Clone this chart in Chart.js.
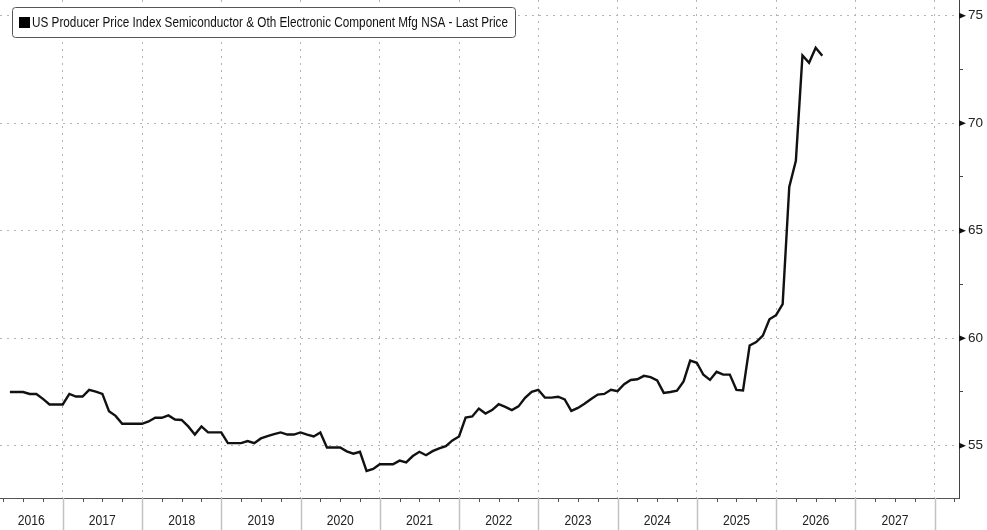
<!DOCTYPE html>
<html>
<head>
<meta charset="utf-8">
<script src="https://cdn.jsdelivr.net/npm/chart.js@4.4.1/dist/chart.umd.min.js"></script>
<style>
  html, body { margin: 0; padding: 0; background: #fff; }
  #wrap { width: 987px; height: 530px; }
</style>
</head>
<body>
<div id="wrap"><canvas id="grafico" width="987" height="530"></canvas></div>
<script>
// ==================== DADOS ====================
const seriesName = "US Producer Price Index Semiconductor & Oth Electronic Component Mfg NSA - Last Price";
const baseYear = 2016;
const firstMonth = "2016-05";

const ppiValues = [
  57.5, 57.5, 57.5, 57.41, 57.41, 57.18, 56.92, 56.92, 56.92, 57.41, 57.29, 57.29,
  57.6, 57.52, 57.41, 56.61, 56.39, 56.02, 56.02, 56.02, 56.02, 56.13, 56.3, 56.3,
  56.41, 56.22, 56.2, 55.9, 55.52, 55.9, 55.62, 55.62, 55.62, 55.12, 55.12, 55.12,
  55.22, 55.12, 55.34, 55.45, 55.54, 55.62, 55.52, 55.52, 55.62, 55.52, 55.43, 55.62,
  54.92, 54.92, 54.92, 54.74, 54.63, 54.72, 53.83, 53.92, 54.14, 54.14, 54.14, 54.31,
  54.23, 54.52, 54.72, 54.56, 54.75, 54.88, 54.98, 55.25, 55.43, 56.31, 56.36, 56.73,
  56.5, 56.66, 56.93, 56.81, 56.66, 56.83, 57.23, 57.51, 57.6, 57.24, 57.24, 57.28,
  57.15, 56.62, 56.76, 56.95, 57.17, 57.38, 57.41, 57.6, 57.54, 57.86, 58.06, 58.09,
  58.25, 58.19, 58.04, 57.46, 57.5, 57.56, 57.99, 58.96, 58.86, 58.3, 58.06, 58.44,
  58.31, 58.31, 57.6, 57.57, 59.66, 59.82, 60.12, 60.88, 61.07, 61.59, 67.04, 68.25,
  73.15, 72.81, 73.51, 73.14
];

const yearLabels = ["2016", "2017", "2018", "2019", "2020", "2021", "2022", "2023", "2024", "2025", "2026", "2027"];
const majorTicks = [55, 60, 65, 70, 75];
const minorTicks = [57.5, 62.5, 67.5, 72.5];

// ==================== HELPERS ====================
function monthIndex(ym) {
  const [y, m] = ym.split("-").map(Number);
  return (y - baseYear) * 12 + (m - 1);
}

const start = monthIndex(firstMonth);
const points = ppiValues.map((v, i) => ({ x: start + i, y: v }));

const FONT = "'Liberation Sans', Arial, sans-serif";

// ==================== DECORAÇÃO ESTILO TERMINAL ====================
const decorPlugin = {
  id: "decor",
  afterDraw(chart) {
    const { ctx, chartArea: area } = chart;
    const xs = chart.scales.x;
    const ys = chart.scales.y;

    ctx.save();

    // separadores de ano abaixo do eixo
    ctx.strokeStyle = "#c2c2c2";
    ctx.lineWidth = 1.5;
    for (let k = 0; k <= yearLabels.length + 1; k++) {
      const m = k * 12;
      if (m < xs.min || m > xs.max) continue;
      const px = Math.round(xs.getPixelForValue(m)) + 0.5;
      ctx.beginPath();
      ctx.moveTo(px, area.bottom);
      ctx.lineTo(px, chart.height);
      ctx.stroke();
    }

    // ticks trimestrais
    ctx.strokeStyle = "#555";
    ctx.lineWidth = 1;
    for (let m = 0; m <= xs.max; m += 3) {
      if (m < xs.min || m % 12 === 0) continue;
      const px = Math.round(xs.getPixelForValue(m)) + 0.5;
      ctx.beginPath();
      ctx.moveTo(px, area.bottom);
      ctx.lineTo(px, area.bottom + 4);
      ctx.stroke();
    }

    // rótulos dos anos
    ctx.fillStyle = "#222";
    ctx.font = "14px " + FONT;
    ctx.textAlign = "center";
    ctx.textBaseline = "middle";
    yearLabels.forEach((label, k) => {
      const left = Math.max(xs.getPixelForValue(k * 12), area.left);
      const right = Math.min(xs.getPixelForValue(k * 12 + 12), area.right);
      if (right - left < 30) return;
      ctx.fillText(label, (left + right) / 2, area.bottom + 23, 27);
    });

    // setas nos ticks principais
    ctx.fillStyle = "#111";
    majorTicks.forEach((v) => {
      const py = ys.getPixelForValue(v);
      ctx.beginPath();
      ctx.moveTo(area.right, py - 3);
      ctx.lineTo(area.right + 7, py);
      ctx.lineTo(area.right, py + 3);
      ctx.closePath();
      ctx.fill();
    });

    // legenda
    const bx = 12.5, by = 7.5, bw = 503, bh = 30;
    ctx.beginPath();
    ctx.roundRect(bx, by, bw, bh, 3);
    ctx.fillStyle = "#fff";
    ctx.fill();
    ctx.strokeStyle = "#555";
    ctx.lineWidth = 1;
    ctx.stroke();

    ctx.fillStyle = "#000";
    ctx.fillRect(19, 17, 11, 11);

    ctx.fillStyle = "#111";
    ctx.font = "14px " + FONT;
    ctx.textAlign = "left";
    ctx.textBaseline = "middle";
    ctx.fillText(chart.data.datasets[0].label, 32, 23, 476);

    ctx.restore();
  }
};

// ==================== GRÁFICO ====================
new Chart(document.getElementById("grafico"), {
  type: "line",
  data: {
    datasets: [
      {
        label: seriesName,
        data: points,
        borderColor: "#111",
        borderWidth: 2.4,
        pointRadius: 0,
        tension: 0,
        fill: false,
      },
    ],
  },
  options: {
    responsive: false,
    animation: false,
    layout: { padding: 0 },
    plugins: {
      legend: { display: false },
      tooltip: { enabled: false },
    },
    scales: {
      x: {
        type: "linear",
        min: 2.5,
        max: 147.7,
        afterBuildTicks: (scale) => {
          const t = [];
          for (let k = 0; k <= yearLabels.length + 1; k++) t.push({ value: k * 12 });
          scale.ticks = t.filter((tk) => tk.value > scale.min && tk.value < scale.max);
        },
        afterFit: (scale) => {
          scale.height = 32;
          scale.paddingLeft = 0;
          scale.paddingRight = 0;
        },
        ticks: { display: false },
        grid: {
          color: "#b4b4b4",
          lineWidth: 1,
          drawTicks: false,
        },
        border: { display: true, color: "#555", width: 1, dash: [2, 5] },
      },
      y: {
        type: "linear",
        position: "right",
        min: 52.57,
        max: 75.73,
        afterBuildTicks: (scale) => {
          scale.ticks = majorTicks.concat(minorTicks).sort((a, b) => a - b).map((v) => ({ value: v }));
        },
        afterFit: (scale) => {
          scale.width = 28;
          scale.paddingTop = 0;
          scale.paddingBottom = 0;
        },
        ticks: {
          color: "#222",
          padding: 5,
          font: { family: FONT, size: 13.5 },
          callback: (v) => (majorTicks.includes(v) ? String(v) : ""),
        },
        grid: {
          color: (c) => (c.tick && majorTicks.includes(c.tick.value) ? "#b4b4b4" : "rgba(0,0,0,0)"),
          tickColor: "#444",
          tickLength: 4,
          lineWidth: 1,
        },
        border: { display: true, color: "#444", width: 1, dash: [2, 5] },
      },
    },
  },
  plugins: [decorPlugin],
});
</script>
</body>
</html>
